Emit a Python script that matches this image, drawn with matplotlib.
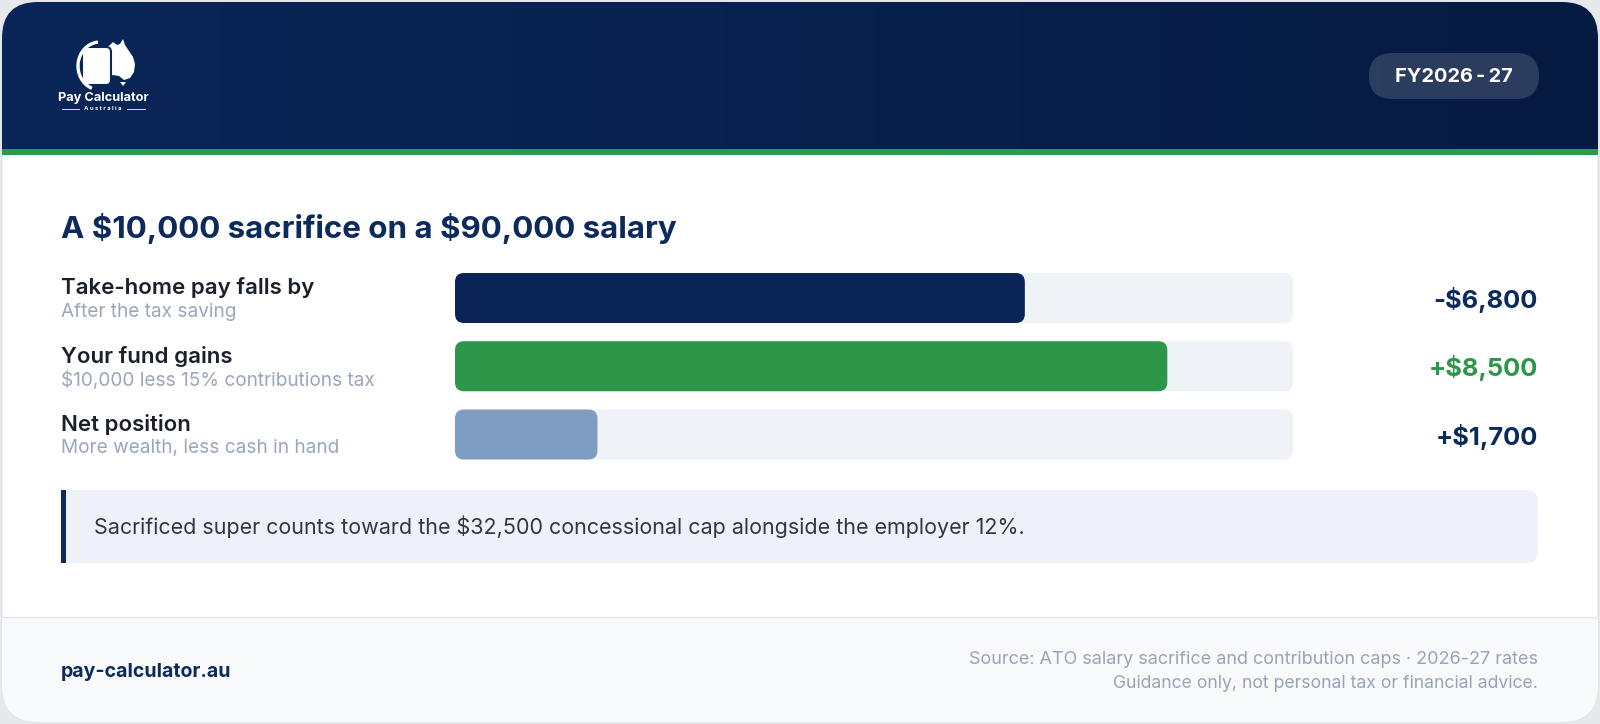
import numpy as np
import matplotlib.pyplot as plt
from matplotlib.patches import FancyBboxPatch, Rectangle, Polygon, Arc
from matplotlib.colors import LinearSegmentedColormap

plt.rcParams['font.family'] = ['Inter', 'DejaVu Sans']
plt.rcParams['text.parse_math'] = False

# Данные
title = "A $10,000 sacrifice on a $90,000 salary"
labels = ["Take-home pay falls by", "Your fund gains", "Net position"]
sublabels = ["After the tax saving", "$10,000 less 15% contributions tax",
             "More wealth, less cash in hand"]
amounts = [-6800, 8500, 1700]
sacrifice = 10000
bar_colors = ["#0a2458", "#2e9648", "#7f9dc2"]
value_colors = ["#0d2a5c", "#2e9648", "#0d2a5c"]
badge = "FY2026-27"
note = "Sacrificed super counts toward the $32,500 concessional cap alongside the employer 12%."
site = "pay-calculator.au"
source_lines = ["Source: ATO salary sacrifice and contribution caps \u00b7 2026-27 rates",
                "Guidance only, not personal tax or financial advice."]

W, H = 1600, 724
NAVY = "#0d2a5c"
pt = 0.72  # px -> pt при dpi=100

fig = plt.figure(figsize=(W / 100, H / 100), dpi=100)
fig.patch.set_facecolor("#e6e8ec")
ax = fig.add_axes([0, 0, 1, 1])
ax.set_xlim(0, W)
ax.set_ylim(H, 0)
ax.axis("off")

# Карточка
card = FancyBboxPatch((2, 2), W - 4, H - 4, boxstyle="round,pad=0,rounding_size=36",
                      fc="white", ec="#dfe3ea", lw=1, zorder=1)
ax.add_patch(card)

# Шапка с градиентом
grad = np.linspace(0, 1, 256).reshape(1, -1)
cmap = LinearSegmentedColormap.from_list("hdr", ["#0a2658", "#061b42"])
im = ax.imshow(grad, cmap=cmap, extent=(0, W, 150, 0), aspect="auto", zorder=2)
im.set_clip_path(card)
stripe = Rectangle((0, 149), W, 6, fc="#2e9a48", ec="none", zorder=3)
ax.add_patch(stripe)
stripe.set_clip_path(card)

# Подвал
foot = Rectangle((0, 617), W, 110, fc="#f8fafc", ec="none", zorder=2)
ax.add_patch(foot)
foot.set_clip_path(card)
ax.plot([2, W - 2], [617, 617], color="#e2e8f0", lw=1, zorder=3)

# Логотип
aus = np.array([[99, 52], [104, 47], [109, 46], [113, 42], [117, 45], [120, 44],
                [123, 39], [125, 45], [129, 51], [133, 57], [135, 64], [134, 72],
                [130, 78], [124, 80], [119, 76], [113, 75], [106, 78], [100, 70]])
ax.add_patch(Polygon(aus, closed=True, fc="white", ec="none", zorder=4))
ax.add_patch(Polygon([[120, 82], [126, 82], [123, 86]], closed=True, fc="white", ec="none", zorder=4))
ax.add_patch(FancyBboxPatch((82, 47), 29, 38, boxstyle="round,pad=0,rounding_size=5",
                            fc="white", ec="#0a2658", lw=1.5, zorder=5))
ax.add_patch(Arc((100, 66), 44, 48, theta1=110, theta2=265, color="white", lw=2.4, zorder=5))
ax.text(103, 98, "Pay Calculator", color="white", fontsize=12.8 * pt, fontweight="bold",
        ha="center", va="center", zorder=5)
ax.text(103, 109, "A u s t r a l i a", color="white", fontsize=6 * pt, fontweight="bold",
        ha="center", va="center", zorder=5)
ax.plot([62, 79], [109, 109], color="white", lw=0.6, zorder=5)
ax.plot([127, 145], [109, 109], color="white", lw=0.6, zorder=5)

# Бейдж
ax.add_patch(FancyBboxPatch((1369, 53), 170, 46, boxstyle="round,pad=0,rounding_size=23",
                            fc="white", alpha=0.15, ec="none", zorder=4))
ax.text(1454, 76.5, badge.replace("-", "\u2009-\u2009"), color="white",
        fontsize=20 * pt, fontweight="bold", ha="center", va="center", zorder=5)

# Заголовок
ax.text(61, 229, title, color=NAVY, fontsize=31.3 * pt, fontweight="bold",
        ha="left", va="center", zorder=5)

# Полосы
row_top, row_step = 298, 68.25
bax = fig.add_axes([455 / W, 1 - (row_top + 2.5 * row_step) / H, 838 / W, 3 * row_step / H])
bax.set_xlim(0, sacrifice)
bax.set_ylim(2.5, -0.5)
bax.axis("off")
bax.patch.set_alpha(0)
ux = sacrifice / 838
uy = 3 / (3 * row_step)
asp = uy / ux
bh = 50 / row_step
for i, (lab, sub, a) in enumerate(zip(labels, sublabels, amounts)):
    bax.add_patch(FancyBboxPatch((0, i - bh / 2), sacrifice, bh,
                                 boxstyle=f"round,pad=0,rounding_size={9 * ux}",
                                 mutation_aspect=asp, fc="#eff3f7", ec="none"))
    bax.add_patch(FancyBboxPatch((0, i - bh / 2), abs(a), bh,
                                 boxstyle=f"round,pad=0,rounding_size={9 * ux}",
                                 mutation_aspect=asp, fc=bar_colors[i], ec="none"))
    yc = row_top + i * row_step
    ax.text(61, yc - 10, lab, color="#1a202c", fontsize=22.3 * pt, fontweight="semibold",
            ha="left", va="center", zorder=5)
    ax.text(61, yc + 14, sub, color="#9aa6bd", fontsize=19 * pt,
            ha="left", va="center", zorder=5)
    sign = "+" if a > 0 else "-"
    ax.text(1538, yc + 2, f"{sign}${abs(a):,}", color=value_colors[i], fontsize=25.5 * pt,
            fontweight="bold", ha="right", va="center", zorder=5)

# Примечание
ax.add_patch(FancyBboxPatch((61, 490), 1477, 73, boxstyle="round,pad=0,rounding_size=12",
                            fc="#eef2f8", ec="none", zorder=4))
ax.add_patch(Rectangle((61, 490), 5, 73, fc=NAVY, ec="none", zorder=5))
ax.text(94, 527, note, color="#2d3748", fontsize=21.5 * pt, ha="left", va="center", zorder=5)

# Подвал: текст
ax.text(61, 672, site, color=NAVY, fontsize=19.5 * pt, fontweight="bold",
        ha="left", va="center", zorder=5)
ax.text(1538, 659, source_lines[0], color="#9aa3b5", fontsize=18 * pt,
        ha="right", va="center", zorder=5)
ax.text(1538, 683, source_lines[1], color="#9aa3b5", fontsize=17.6 * pt,
        ha="right", va="center", zorder=5)

fig.savefig("out.png", dpi=100, facecolor=fig.get_facecolor())
